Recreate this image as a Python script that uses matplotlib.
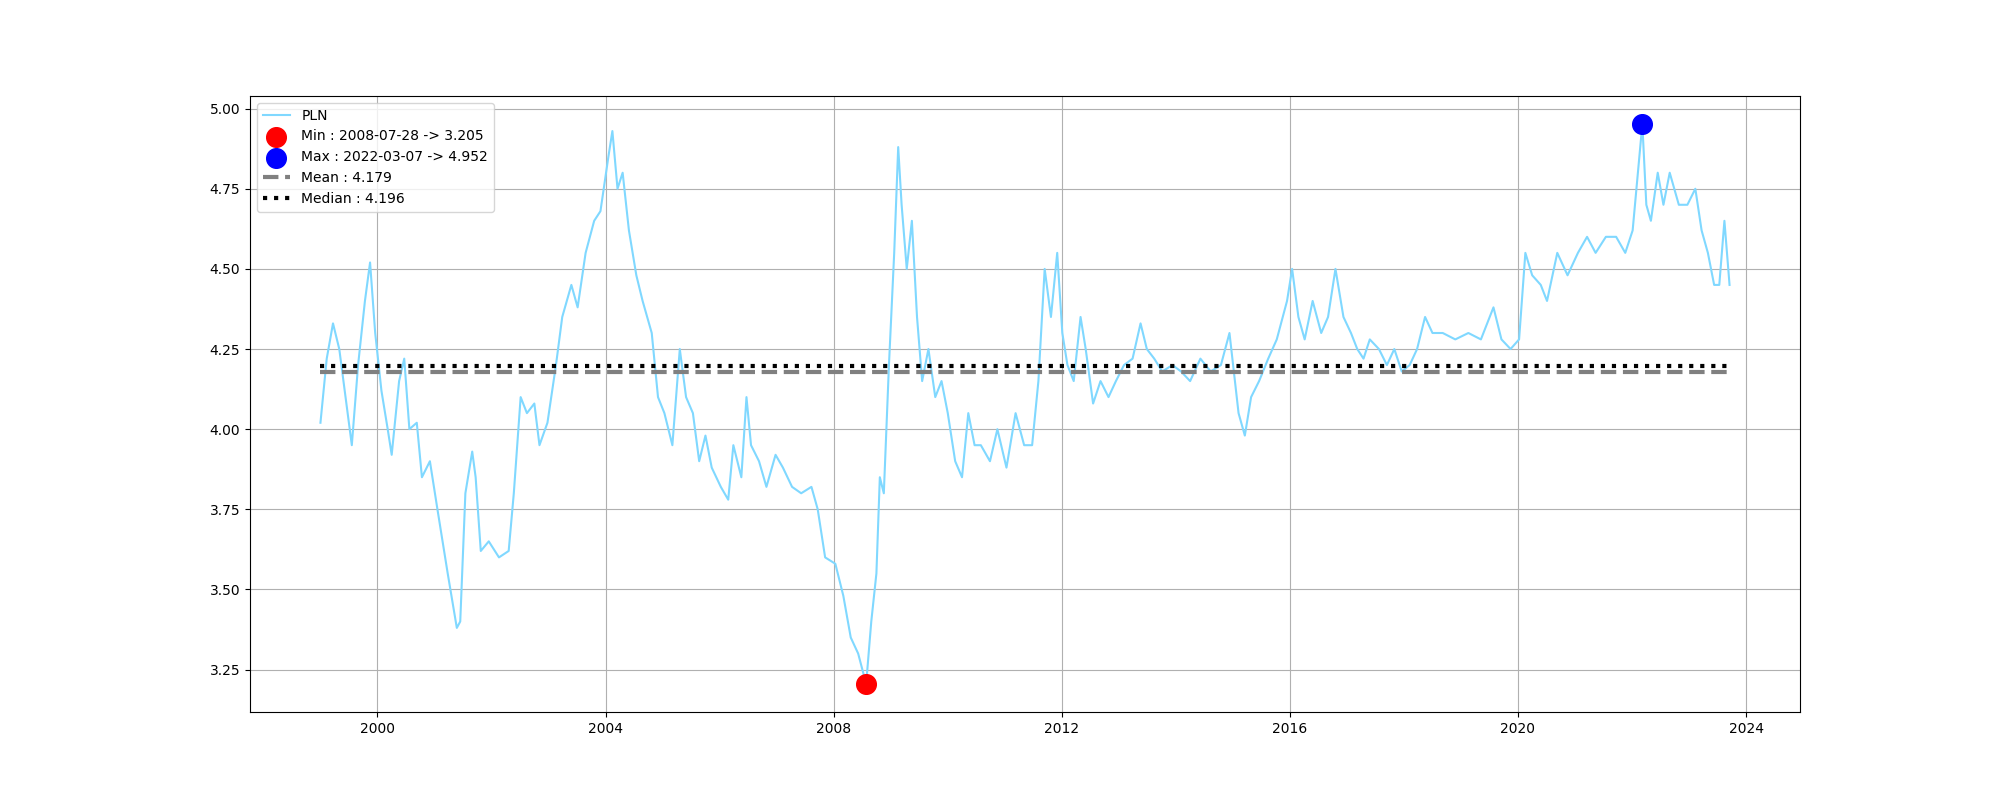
from matplotlib import pyplot as plt
import numpy as np
import pandas as pd

# decimal year -> PLN rate
years = [1999.00, 1999.11, 1999.22, 1999.33, 1999.44, 1999.55, 1999.66, 1999.78, 1999.87, 1999.96,
         2000.07, 2000.18, 2000.25, 2000.38, 2000.47, 2000.56, 2000.69, 2000.78, 2000.92, 2001.05,
         2001.23, 2001.39, 2001.45, 2001.54, 2001.66, 2001.72, 2001.81, 2001.95, 2002.13, 2002.30,
         2002.39, 2002.51, 2002.62, 2002.75, 2002.84, 2002.98, 2003.13, 2003.24, 2003.40, 2003.51,
         2003.65, 2003.80, 2003.91, 2004.05, 2004.12, 2004.21, 2004.30, 2004.41, 2004.54, 2004.65,
         2004.81, 2004.92, 2005.03, 2005.17, 2005.30, 2005.41, 2005.53, 2005.64, 2005.75, 2005.86,
         2006.02, 2006.15, 2006.24, 2006.38, 2006.47, 2006.55, 2006.69, 2006.82, 2006.98, 2007.11,
         2007.27, 2007.43, 2007.61, 2007.72, 2007.85, 2008.03, 2008.17, 2008.30, 2008.43, 2008.57,
         2008.66, 2008.75, 2008.81, 2008.88, 2008.97, 2009.06, 2009.13, 2009.19, 2009.28, 2009.37,
         2009.46, 2009.55, 2009.66, 2009.78, 2009.89, 2010.00, 2010.13, 2010.25, 2010.36, 2010.47,
         2010.58, 2010.74, 2010.87, 2011.03, 2011.19, 2011.34, 2011.48, 2011.59, 2011.70, 2011.81,
         2011.92, 2012.01, 2012.10, 2012.21, 2012.33, 2012.42, 2012.55, 2012.68, 2012.82, 2012.95,
         2013.09, 2013.24, 2013.38, 2013.49, 2013.62, 2013.76, 2013.94, 2014.09, 2014.25, 2014.43,
         2014.61, 2014.79, 2014.94, 2015.10, 2015.21, 2015.32, 2015.46, 2015.62, 2015.77, 2015.95,
         2016.04, 2016.15, 2016.26, 2016.40, 2016.55, 2016.67, 2016.80, 2016.94, 2017.07, 2017.18,
         2017.29, 2017.40, 2017.56, 2017.70, 2017.83, 2017.96, 2018.10, 2018.23, 2018.37, 2018.50,
         2018.68, 2018.90, 2019.13, 2019.35, 2019.57, 2019.71, 2019.87, 2020.02, 2020.13, 2020.25,
         2020.40, 2020.51, 2020.69, 2020.87, 2021.05, 2021.21, 2021.36, 2021.54, 2021.72, 2021.88,
         2022.01, 2022.18, 2022.25, 2022.33, 2022.45, 2022.55, 2022.66, 2022.82, 2022.97, 2023.11,
         2023.22, 2023.33, 2023.44, 2023.53, 2023.62, 2023.71]
rates = [4.02, 4.22, 4.33, 4.25, 4.10, 3.95, 4.20, 4.40, 4.52, 4.30,
         4.12, 4.00, 3.92, 4.15, 4.22, 4.00, 4.02, 3.85, 3.90, 3.75,
         3.55, 3.38, 3.40, 3.80, 3.93, 3.85, 3.62, 3.65, 3.60, 3.62,
         3.80, 4.10, 4.05, 4.08, 3.95, 4.02, 4.20, 4.35, 4.45, 4.38,
         4.55, 4.65, 4.68, 4.85, 4.93, 4.75, 4.80, 4.62, 4.48, 4.40,
         4.30, 4.10, 4.05, 3.95, 4.25, 4.10, 4.05, 3.90, 3.98, 3.88,
         3.82, 3.78, 3.95, 3.85, 4.10, 3.95, 3.90, 3.82, 3.92, 3.88,
         3.82, 3.80, 3.82, 3.75, 3.60, 3.58, 3.48, 3.35, 3.30, 3.205,
         3.40, 3.55, 3.85, 3.80, 4.20, 4.55, 4.88, 4.70, 4.50, 4.65,
         4.35, 4.15, 4.25, 4.10, 4.15, 4.05, 3.90, 3.85, 4.05, 3.95,
         3.95, 3.90, 4.00, 3.88, 4.05, 3.95, 3.95, 4.15, 4.50, 4.35,
         4.55, 4.30, 4.20, 4.15, 4.35, 4.25, 4.08, 4.15, 4.10, 4.15,
         4.20, 4.22, 4.33, 4.25, 4.22, 4.18, 4.20, 4.18, 4.15, 4.22,
         4.18, 4.20, 4.30, 4.05, 3.98, 4.10, 4.15, 4.22, 4.28, 4.40,
         4.50, 4.35, 4.28, 4.40, 4.30, 4.35, 4.50, 4.35, 4.30, 4.25,
         4.22, 4.28, 4.25, 4.20, 4.25, 4.18, 4.20, 4.25, 4.35, 4.30,
         4.30, 4.28, 4.30, 4.28, 4.38, 4.28, 4.25, 4.28, 4.55, 4.48,
         4.45, 4.40, 4.55, 4.48, 4.55, 4.60, 4.55, 4.60, 4.60, 4.55,
         4.62, 4.952, 4.70, 4.65, 4.80, 4.70, 4.80, 4.70, 4.70, 4.75,
         4.62, 4.55, 4.45, 4.45, 4.65, 4.45]
min_label = "Min : 2008-07-28 -> 3.205"
max_label = "Max : 2022-03-07 -> 4.952"
mean_val = 4.179
median_val = 4.196


def to_dates(yrs):
    out = []
    for y in yrs:
        base = pd.Timestamp(int(y), 1, 1)
        out.append(base + pd.Timedelta(days=(y - int(y)) * 365.25))
    return out


dates = to_dates(years)
vals = np.array(rates)
i_min = int(np.argmin(vals))
i_max = int(np.argmax(vals))

fig, ax = plt.subplots(figsize=(20, 8), dpi=100)
ax.plot(dates, vals, color="#80d8ff", label="PLN")
ax.scatter([dates[i_min]], [vals[i_min]], s=200, color="red", label=min_label, zorder=3)
ax.scatter([dates[i_max]], [vals[i_max]], s=200, color="blue", label=max_label, zorder=3)
ax.hlines(mean_val, dates[0], dates[-1], colors="gray", linestyles="--", linewidth=3,
          label="Mean : {0}".format(mean_val))
ax.hlines(median_val, dates[0], dates[-1], colors="black", linestyles=":", linewidth=3,
          label="Median : {0}".format(median_val))
ax.grid(True)
ax.legend(loc="upper left")
plt.savefig("out.png")
